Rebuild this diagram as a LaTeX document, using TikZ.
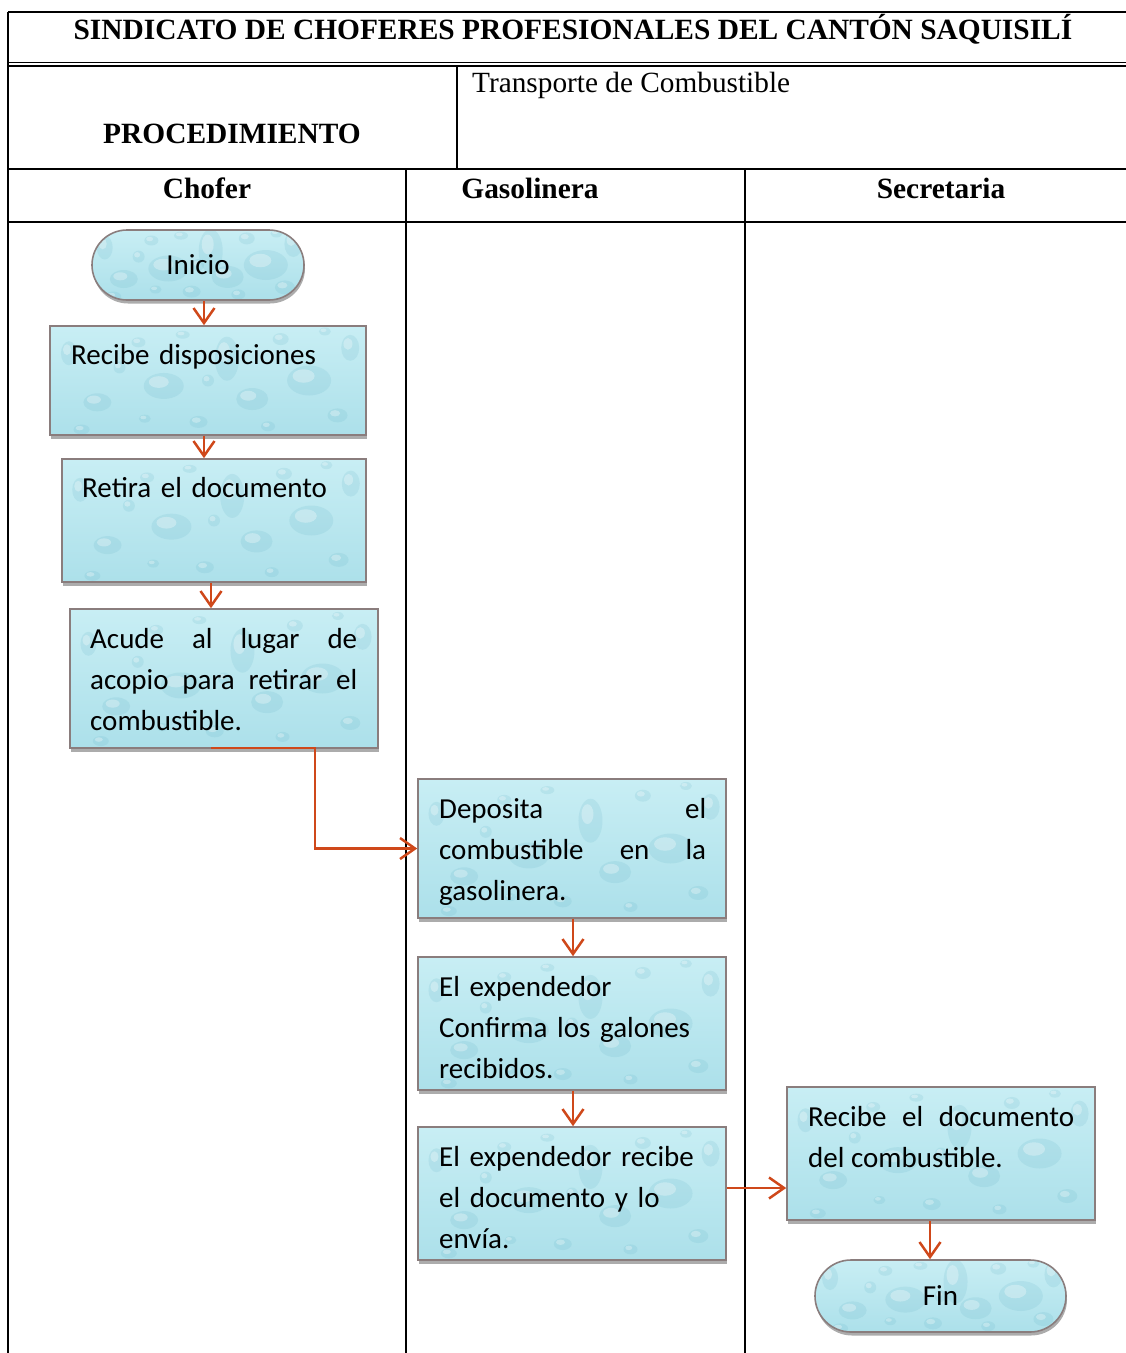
\documentclass[tikz,border=0pt]{standalone}
\usepackage{fontspec}
\setmainfont{Liberation Serif}
\newfontfamily\boxfont{Carlito}
\usetikzlibrary{arrows.meta,shapes.misc,shadows,calc}

\definecolor{aquaL}{RGB}{200,238,244}
\definecolor{aquaM}{RGB}{172,224,234}
\definecolor{aquaD}{RGB}{100,178,198}
\definecolor{boxedge}{RGB}{138,125,125}
\definecolor{flow}{RGB}{207,72,26}

% water-drop texture painted inside every flow box
\newcommand\waterdrops{%
  \path (path picture bounding box.south west) coordinate (dsw)
        (path picture bounding box.north east) coordinate (dne);
  \foreach \fx/\fy/\rx/\ry in {0.06/0.75/8/12, 0.15/0.30/14/9, 0.28/0.85/7/5,
      0.36/0.45/20/13, 0.47/0.12/9/6, 0.56/0.70/12/22, 0.64/0.33/16/11,
      0.73/0.88/8/6, 0.82/0.50/22/15, 0.91/0.18/10/7, 0.95/0.80/9/13,
      0.22/0.62/6/6, 0.42/0.92/7/4, 0.69/0.08/7/5, 0.87/0.95/6/4,
      0.10/0.05/8/5, 0.50/0.50/6/6, 0.30/0.15/6/4}{%
    \path let \p1=(dsw), \p2=(dne) in
      ({\x1+\fx*(\x2-\x1)},{\y1+\fy*(\y2-\y1)}) coordinate (dc);
    \fill[aquaD,opacity=.16] (dc) ellipse[x radius=\rx pt, y radius=\ry pt];
    \fill[white,opacity=.30] ([xshift=-.25*\rx pt,yshift=.3*\ry pt]dc)
      ellipse[x radius=.5*\rx pt, y radius=.45*\ry pt];
  }%
}

\begin{document}
\begin{tikzpicture}[x=1pt,y=-1pt,
  rule/.style={line width=1.6pt},
  water/.style={draw=boxedge, line width=1.6pt, inner sep=0pt,
    top color=aquaL, bottom color=aquaM,
    path picture={\waterdrops},
    drop shadow={shadow xshift=1pt, shadow yshift=-3.5pt, fill=gray!65, opacity=1}},
  procbox/.style={water, rectangle},
  termbox/.style={water, rounded rectangle, rounded rectangle arc length=180,
    font=\boxfont\fontsize{29}{34}\selectfont},
  boxtxt/.style={anchor=north west, inner sep=0pt, align=left,
    font=\boxfont\fontsize{29}{41}\selectfont},
  boxjust/.style={boxtxt, align=justify},
  head/.style={font=\bfseries\fontsize{29.4}{35}\selectfont, inner sep=0pt},
  arr/.style={draw=flow, line width=2.5pt,
    -{Straight Barb[length=15pt,width=21pt,line width=2.5pt]}}
]
\useasboundingbox (0,0) rectangle (1126,1353);

% ---- table frame ----
\draw[rule] (8,12) -- (1126,12);
\draw[rule] (8,12) -- (8,1353);
\draw[line width=1pt] (8,62.5) -- (1126,62.5);
\draw[line width=2pt] (8,66) -- (1126,66);
\draw[rule] (457,66) -- (457,169);
\draw[line width=2.4pt] (8,169) -- (1126,169);
\draw[line width=2pt] (8,222) -- (1126,222);
\draw[rule] (406,169) -- (406,1353);
\draw[rule] (745,169) -- (745,1353);

% ---- headings ----
\node[head] (title) at (573,29) {SINDICATO DE CHOFERES PROFESIONALES DEL CANTÓN SAQUISILÍ};
\node[head] (proc) at (232,134) {PROCEDIMIENTO};
\node[inner sep=0pt, anchor=west, font=\fontsize{29.3}{35}\selectfont] (tema) at (472,85) {Transporte de Combustible};
\node[head] (lane1) at (207,188) {Chofer};
\node[head] (lane2) at (530,188) {Gasolinera};
\node[head] (lane3) at (941,188) {Secretaria};

% ---- flow boxes ----
\node[termbox, minimum width=212pt, minimum height=70pt] (ini) at (198,265) {Inicio};
\node[procbox, minimum width=316pt, minimum height=109pt] (b1) at (208,380.5) {};
\node[procbox, minimum width=304pt, minimum height=123pt] (b2) at (214,520.5) {};
\node[procbox, minimum width=308pt, minimum height=139pt] (b3) at (224,678.5) {};
\node[procbox, minimum width=308pt, minimum height=139pt] (b4) at (572,848.5) {};
\node[procbox, minimum width=308pt, minimum height=133pt] (b5) at (572,1023.5) {};
\node[procbox, minimum width=308pt, minimum height=133pt] (b6) at (572,1193.5) {};
\node[procbox, minimum width=308pt, minimum height=133pt] (b7) at (941,1153.5) {};
\node[termbox, minimum width=251pt, minimum height=72pt] (fin) at (940.5,1296) {Fin};

% ---- box texts ----
\node[boxtxt, text width=290pt] (t1) at (71,335.3) {\strut Recibe disposiciones};
\node[boxtxt, text width=280pt] (t2) at (82,468.3) {\strut Retira el documento};
\node[boxjust, text width=267pt] (t3) at (90,619.3)
  {\strut Acude al lugar de\linebreak acopio para retirar el\linebreak combustible.};
\node[boxjust, text width=267pt] (t4) at (439,789.3)
  {\strut Deposita el\linebreak combustible en la\linebreak gasolinera.};
\node[boxtxt, text width=275pt] (t5) at (439,967.3)
  {\strut El expendedor\\Confirma los galones\\recibidos.};
\node[boxtxt, text width=275pt] (t6) at (439,1137.3)
  {\strut El expendedor recibe\\el documento y lo\\envía.};
\node[boxjust, text width=266pt] (t7) at (808,1097.3)
  {\strut Recibe el documento\linebreak del combustible.};

% ---- connectors ----
\draw[arr] ([xshift=6pt]ini.south) -- ([xshift=6pt]ini.south |- b1.north);
\draw[arr] ([xshift=-4pt]b1.south) -- ([xshift=-4pt]b1.south |- b2.north);
\draw[arr] ([xshift=-3pt]b2.south) -- ([xshift=-3pt]b2.south |- b3.north);
\draw[arr] ([xshift=-13pt,yshift=1pt]b3.south) -- ++(104,0) |- (b4.west);
\draw[arr] ([xshift=1pt]b4.south) -- ([xshift=1pt]b4.south |- b5.north);
\draw[arr] ([xshift=1pt]b5.south) -- ([xshift=1pt]b5.south |- b6.north);
\draw[arr] ([yshift=5.5pt]b6.east) -- ([yshift=5.5pt]b6.east -| b7.west);
\draw[arr] ([xshift=-11pt]b7.south) -- ([xshift=-11pt]b7.south |- fin.north);
\end{tikzpicture}
\end{document}
